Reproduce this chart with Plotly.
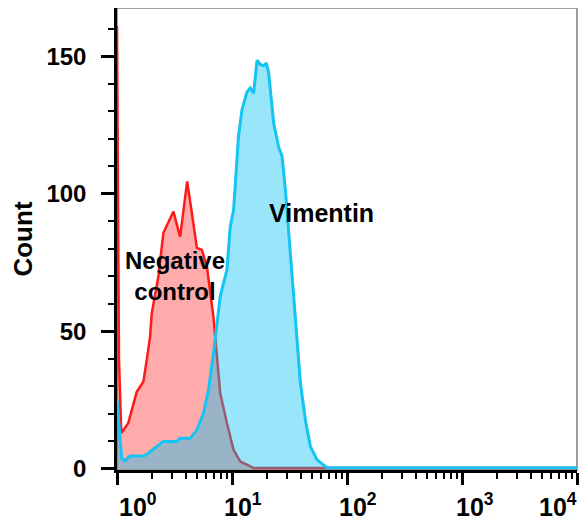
import math
import plotly.graph_objects as go

# Negative control histogram (fluorescence intensity, count)
neg_x = [1.0, 1.04, 1.09, 1.254, 1.485, 1.695, 1.814, 1.939, 2.006, 2.291, 2.532,
         3.095, 3.54, 4.074, 4.477, 4.95, 5.472, 6.049, 6.907, 7.393, 7.901, 9.036,
         10.32, 11.8, 15.41, 10000]
neg_y = [161, 40, 13, 16.7, 28, 31.7, 39.6, 48, 56.6, 70, 85.8,
         93.5, 84.3, 104.5, 93, 80.3, 79.6, 73.6, 55, 40, 27.5, 16.6,
         6.9, 2.7, 0.3, 0.3]

# Vimentin histogram
vim_x = [1.0, 1.099, 1.174, 1.298, 1.695, 1.874, 2.072, 2.532, 3.313, 3.54, 4.327,
         4.95, 5.651, 6.248, 6.907, 7.901, 9.036, 9.654, 10.32, 11.04, 11.4, 12.21,
         13.5, 14.42, 15.41, 16.5, 17.63, 18.84, 19.89, 20.83, 21.54, 23.02, 25.45,
         27.25, 29.12, 31.11, 32.19, 34.39, 36.81, 39.34, 43.48, 48.07, 55.0, 67.2, 10000]
vim_y = [25, 3.9, 3, 4.7, 4.7, 5.7, 7.2, 10, 10, 11.1, 11.1,
         14.2, 20.2, 28.7, 42, 62.7, 72.4, 88, 94, 110, 121, 130.5,
         137, 138.4, 136.5, 148.5, 147, 146.5, 147.5, 144, 137.8, 125.7, 117,
         113.6, 101.5, 86, 78, 64, 45.7, 31.2, 17.8, 8.1, 3.3, 0.4, 0.4]

x_tickvals = [1, 10, 100, 1000, 10000]
x_ticktext = ["10<sup>0</sup>", "10<sup>1</sup>", "10<sup>2</sup>", "10<sup>3</sup>", "10<sup>4</sup>"]
x_minor = [m * d for d in [1, 10, 100, 1000] for m in range(2, 10)]
y_tickvals = [0, 50, 100, 150]

FONT = "Liberation Sans, Arial, sans-serif"

fig = go.Figure()
fig.add_trace(go.Scatter(
    x=neg_x, y=neg_y, mode="lines", fill="tozeroy",
    line=dict(color="#ff1a1a", width=2.5),
    fillcolor="rgba(255,0,0,0.33)", name="Negative control", showlegend=False))
fig.add_trace(go.Scatter(
    x=vim_x, y=vim_y, mode="lines", fill="tozeroy",
    line=dict(color="#14c4f2", width=3),
    fillcolor="rgba(0,192,242,0.4)", name="Vimentin", showlegend=False))

fig.update_xaxes(
    type="log", range=[0, 4], tickvals=x_tickvals, showticklabels=False,
    ticks="outside", ticklen=12, tickwidth=3, tickcolor="black",
    showline=True, linecolor="black", linewidth=2.5,
    showgrid=False, zeroline=False,
    minor=dict(tickvals=x_minor, ticks="outside", ticklen=6, tickwidth=1.5,
               tickcolor="black", showgrid=False))
fig.update_yaxes(
    range=[-0.4, 167.5], tickvals=y_tickvals,
    ticks="outside", ticklen=13, tickwidth=3, tickcolor="black",
    showline=True, linecolor="black", linewidth=2.5,
    showgrid=False, zeroline=False, ticklabelstandoff=10,
    tickfont=dict(family=FONT, size=24, color="black", weight="bold"),
    title=dict(text="Count", standoff=12,
               font=dict(family=FONT, size=26, color="black", weight="bold")),
    minor=dict(dtick=10, ticks="outside", ticklen=6, tickwidth=1.5,
               tickcolor="black", showgrid=False))

# frame (top and right border)
fig.add_shape(type="rect", xref="paper", yref="paper", x0=0, x1=1, y0=0, y1=1,
              line=dict(color="#808080", width=1.5), layer="below")

# x tick labels
x_label_shift = [21, 11, 11, 13, -19]
for v, t, s in zip(x_tickvals, x_ticktext, x_label_shift):
    fig.add_annotation(x=math.log10(v), y=0, xref="x", yref="paper",
                       text=t, showarrow=False, xanchor="center", yanchor="top",
                       xshift=s, yshift=-17,
                       font=dict(family=FONT, size=25, color="black", weight="bold"))

fig.add_annotation(x=math.log10(60), y=93, text="Vimentin", showarrow=False,
                   xanchor="center", yanchor="middle",
                   font=dict(family=FONT, size=25, color="black", weight="bold"))
fig.add_annotation(x=math.log10(3.2), y=70, text="Negative<br>control", showarrow=False,
                   xanchor="center", yanchor="middle",
                   font=dict(family=FONT, size=24, color="black", weight="bold"))

# the page body has an 8px margin, so the figure is 8px smaller and shifted
fig.update_layout(
    width=580, height=513,
    margin=dict(l=109, r=11, t=0, b=51),
    paper_bgcolor="white", plot_bgcolor="white",
    font=dict(family=FONT, color="black"))

fig.write_html("out.html")
